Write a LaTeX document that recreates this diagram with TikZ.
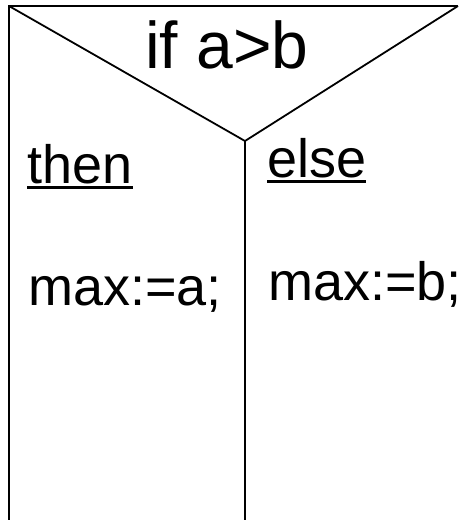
\documentclass[tikz,border=0pt]{standalone}
\usepackage{fontspec}
\setmainfont{Liberation Sans}
\tikzset{
  lbl/.style={inner sep=0pt, anchor=base west, font=\fontsize{54}{60}\selectfont},
  ttl/.style={inner sep=0pt, anchor=base west, font=\fontsize{66}{72}\selectfont},
  frame/.style={line width=2.5pt},
  ul/.style={line width=3pt}
}
\begin{document}
\begin{tikzpicture}[x=1pt,y=-1pt]
\useasboundingbox (0,0) rectangle (465,520);

\coordinate (tl) at (9,6);
\coordinate (tr) at (458,6);
\coordinate (fork) at (245,141);
\coordinate (bl) at (9,521);
\coordinate (bm) at (245,521);

\draw[frame] (tr) -- (tl) -- (bl);
\draw[line width=1.8pt] (tl) -- (fork) -- (tr);
\draw[frame] (fork) -- (bm);

\node (cond) [ttl] at (145,68) {if a>b};

\node (then) [lbl] at (27,183) {then};
\node (else) [lbl] at (267,177) {else};
\draw[ul] ([yshift=-4pt]then.base west) -- ([yshift=-4pt]then.base east);
\draw[ul] ([yshift=-4pt]else.base west) -- ([yshift=-4pt]else.base east);

% statements
\node (maxa) [lbl] at (28,305) {max:=a;};
\node (maxb) [lbl] at (268,300) {max:=b;};

\end{tikzpicture}
\end{document}
